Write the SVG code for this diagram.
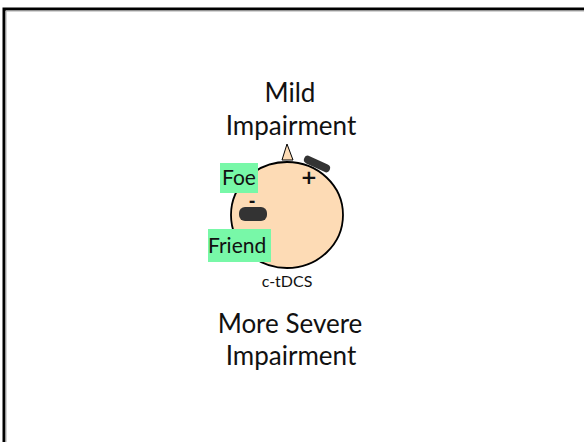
<svg xmlns="http://www.w3.org/2000/svg" width="584" height="442" viewBox="0 0 584 442">
  <style>
    .big { font-family: Lato, "Liberation Sans", sans-serif; font-size: 26px; fill: #111; text-anchor: middle; }
    .tag { font-family: Lato, "Liberation Sans", sans-serif; font-size: 21px; fill: #111; }
    .small { font-family: Lato, "Liberation Sans", sans-serif; font-size: 16px; fill: #111; text-anchor: middle; }
    .sign { font-family: "DejaVu Sans", sans-serif; fill: #111; text-anchor: middle; font-weight: bold; }
    .label-bg { fill: #78f8a8; }
    .pad { fill: #333; }
  </style>
  <rect width="584" height="442" fill="#fff"/>
  <!-- slide frame -->
  <path d="M4 446 V9 H590" fill="none" stroke="#000" stroke-width="3"/>
  <path d="M6 446 V11 H590" fill="none" stroke="#aaa" stroke-width="1"/>

  <g id="mild-label">
    <text class="big" x="290" y="102">Mild</text>
    <text class="big" x="291" y="135">Impairment</text>
  </g>

  <g id="head">
    <polygon points="282,160 287,144 293,160" fill="#fddbb5" stroke="#000" stroke-width="1"/>
    <ellipse cx="287" cy="215" rx="56" ry="53" fill="#fddbb5" stroke="#000" stroke-width="1.8"/>
    <rect class="pad" x="303" y="160" width="28" height="8" rx="4" transform="rotate(25 317 164)"/>
    <text class="sign" x="309" y="184" font-size="20">+</text>
    <rect class="pad" x="239" y="207" width="28" height="14" rx="6"/>
    <text class="sign" x="252" y="206" font-size="16">-</text>
    <text class="small" x="287" y="287">c-tDCS</text>
  </g>

  <g id="foe">
    <rect class="label-bg" x="220" y="163" width="38" height="30"/>
    <text class="tag" x="222" y="185">Foe</text>
  </g>

  <g id="friend">
    <rect class="label-bg" x="208" y="229" width="63" height="33"/>
    <text class="tag" x="208" y="253">Friend</text>
  </g>

  <g id="severe-label">
    <text class="big" x="290" y="333">More Severe</text>
    <text class="big" x="291" y="365">Impairment</text>
  </g>
</svg>
